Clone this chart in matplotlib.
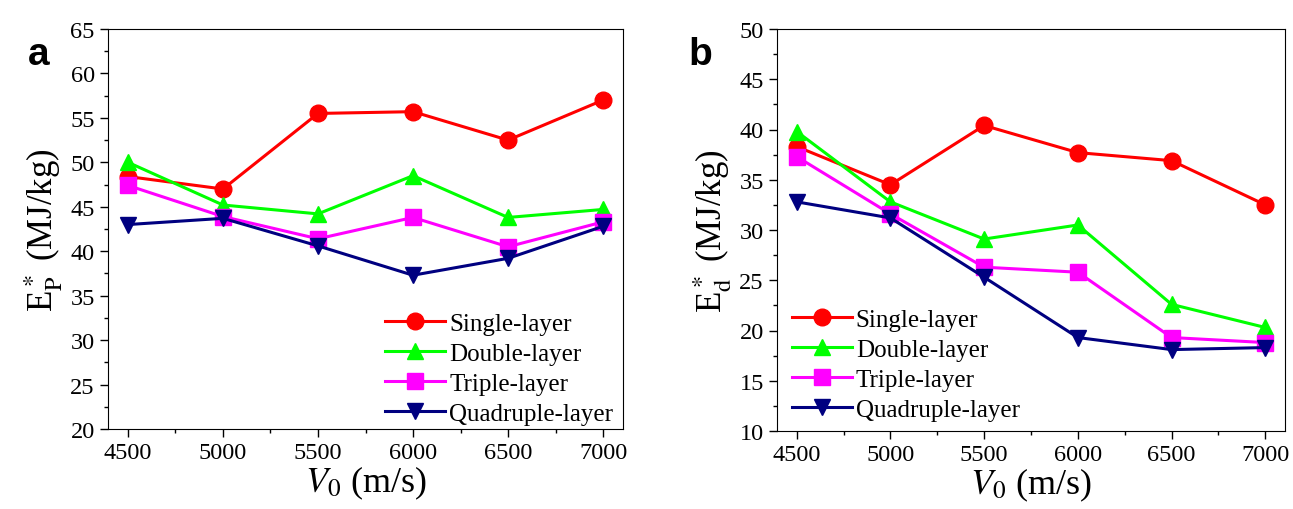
import matplotlib.pyplot as plt
import numpy as np
from matplotlib.ticker import MultipleLocator

v0 = [4500, 5000, 5500, 6000, 6500, 7000]
labels = ['Single-layer', 'Double-layer', 'Triple-layer', 'Quadruple-layer']

# panel a: E_p*
ep_single = [48.4, 47.0, 55.5, 55.7, 52.5, 57.0]
ep_double = [50.0, 45.2, 44.2, 48.5, 43.8, 44.7]
ep_triple = [47.4, 43.9, 41.4, 43.8, 40.5, 43.3]
ep_quad = [43.0, 43.7, 40.6, 37.3, 39.2, 42.8]

# panel b: E_d*
ed_single = [38.3, 34.5, 40.4, 37.7, 36.9, 32.5]
ed_double = [39.8, 32.8, 29.1, 30.5, 22.6, 20.3]
ed_triple = [37.3, 31.6, 26.3, 25.8, 19.3, 18.8]
ed_quad = [32.8, 31.2, 25.3, 19.3, 18.1, 18.3]

colors = ['#ff0000', '#00ff00', '#ff00ff', '#000080']
markers = ['o', '^', 's', 'v']

plt.rcParams['font.family'] = ['Liberation Serif', 'DejaVu Serif']
plt.rcParams['mathtext.fontset'] = 'stix'

fig = plt.figure(figsize=(12.93, 5.1), dpi=100)
ax1 = fig.add_axes([108 / 1293, 80 / 510, 515 / 1293, 400 / 510])
ax2 = fig.add_axes([777 / 1293, 78 / 510, 508 / 1293, 402 / 510])


def draw(ax, series, ylim, ylabel, letter, lx, legloc, leganchor):
    for y, c, m, lab in zip(series, colors, markers, labels):
        ax.plot(v0, y, color=c, marker=m, markersize=12, linewidth=2.2, label=lab)
    ax.set_xlim(4395, 7105)
    ax.set_ylim(*ylim)
    ax.set_xticks(v0)
    ax.xaxis.set_minor_locator(MultipleLocator(250))
    ax.yaxis.set_major_locator(MultipleLocator(5))
    ax.yaxis.set_minor_locator(MultipleLocator(2.5))
    ax.tick_params(which='major', direction='out', length=6, width=1, labelsize=17.5)
    ax.tick_params(which='minor', direction='out', length=3, width=1)
    ax.set_xlabel(r'$V_0$ (m/s)', fontsize=26, labelpad=0)
    ax.set_ylabel(ylabel, fontsize=25, labelpad=4)
    ax.text(lx, 0.9125, letter, transform=ax.transAxes, fontsize=28,
            fontweight='bold', family='Liberation Sans', va='baseline')
    ax.legend(loc=legloc, bbox_to_anchor=leganchor, frameon=False, fontsize=18,
              handlelength=2.4, handletextpad=0.15, labelspacing=0.3,
              borderaxespad=0.0)


draw(ax1, [ep_single, ep_double, ep_triple, ep_quad], (20, 65),
     r'E$_\mathrm{P}^*$ (MJ/kg)', 'a', -0.155, 'lower right', (1.0, -0.015))
draw(ax2, [ed_single, ed_double, ed_triple, ed_quad], (10, 50),
     r'E$_\mathrm{d}^*$ (MJ/kg)', 'b', -0.175, 'lower left', (0.01, 0.0))

plt.savefig('out.png', dpi=100)
